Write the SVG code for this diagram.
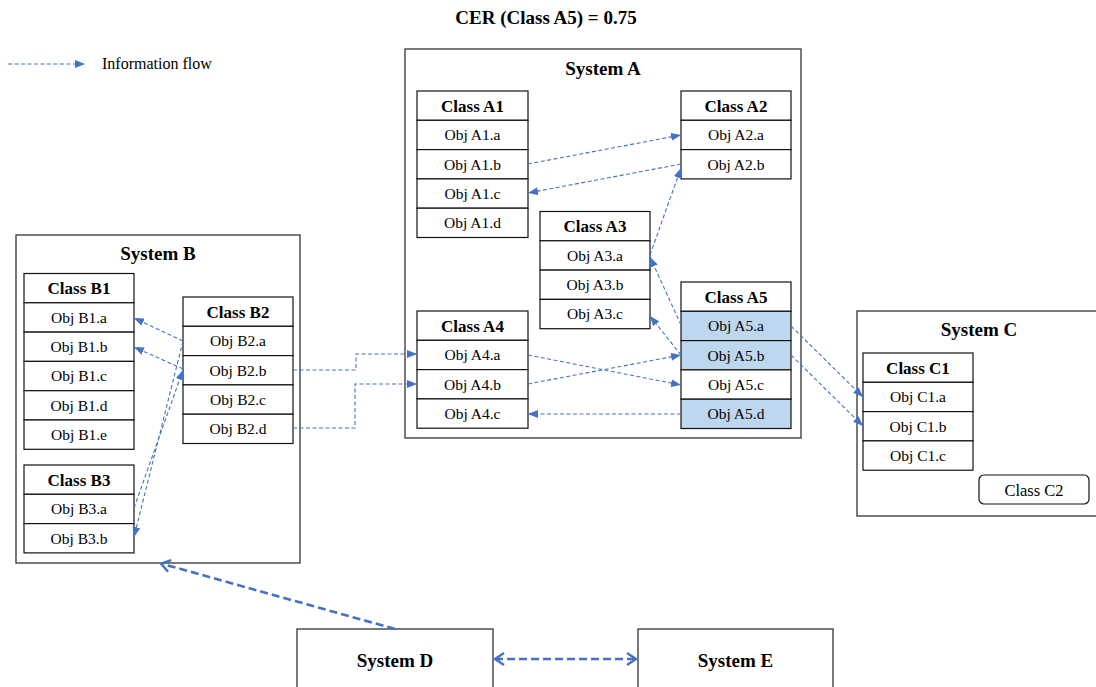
<svg xmlns="http://www.w3.org/2000/svg" width="1096" height="687" viewBox="0 0 1096 687" font-family="'Liberation Serif', Tinos, 'DejaVu Serif', serif">
<style>
text{font-family:'Liberation Serif', Tinos, 'Times New Roman', 'DejaVu Serif', serif;fill:#000}
.sys{fill:#fff;stroke:#333;stroke-width:1.3}
.st{font-size:19px;font-weight:bold;text-anchor:middle}
.box{fill:#fff;stroke:#111;stroke-width:1.2}
.hl{fill:#bdd7ee;stroke:#111;stroke-width:1.2}
.ch{font-size:17px;font-weight:bold;text-anchor:middle}
.ob{font-size:15.5px;text-anchor:middle}
.fl{fill:none;stroke:#4472c4;stroke-width:1.1;stroke-dasharray:4 2.5;marker-end:url(#ah)}
.thick{fill:none;stroke:#4472c4;stroke-width:2.6;stroke-dasharray:8 4}
</style>
<defs>
<marker id="ah" markerUnits="userSpaceOnUse" markerWidth="10" markerHeight="8" refX="10" refY="4" orient="auto">
<path d="M0,0 L10,4 L0,8 z" fill="#4472c4"/>
</marker>
<marker id="oh" markerUnits="userSpaceOnUse" markerWidth="12" markerHeight="14" refX="11" refY="7" orient="auto-start-reverse">
<path d="M2,1 L11,7 L2,13" fill="none" stroke="#4472c4" stroke-width="2.4"/>
</marker>
</defs>
<rect width="1096" height="687" fill="#fff"/>
<text class="st" x="546" y="24">CER (Class A5) = 0.75</text>
<g id="legend">
<path class="fl" d="M8,64 H85"/>
<text x="102" y="69" style="font-size:16px">Information flow</text>
</g>

<g id="systemA">
<rect class="sys" x="405" y="49" width="396" height="389"/>
<text class="st" x="603" y="75">System A</text>
</g>
<g id="classA1">
<rect class="box" x="417" y="91" width="111" height="29.3"/><text class="ch" x="472.5" y="111.6">Class A1</text>
<rect class="box" x="417" y="120.3" width="111" height="29.3"/><text class="ob" x="472.5" y="140.2">Obj A1.a</text>
<rect class="box" x="417" y="149.6" width="111" height="29.3"/><text class="ob" x="472.5" y="169.5">Obj A1.b</text>
<rect class="box" x="417" y="178.9" width="111" height="29.3"/><text class="ob" x="472.5" y="198.8">Obj A1.c</text>
<rect class="box" x="417" y="208.2" width="111" height="29.3"/><text class="ob" x="472.5" y="228.1">Obj A1.d</text>
</g>
<g id="classA2">
<rect class="box" x="681" y="91" width="110" height="29.3"/><text class="ch" x="736" y="111.6">Class A2</text>
<rect class="box" x="681" y="120.3" width="110" height="29.3"/><text class="ob" x="736" y="140.2">Obj A2.a</text>
<rect class="box" x="681" y="149.6" width="110" height="29.3"/><text class="ob" x="736" y="169.5">Obj A2.b</text>
</g>
<g id="classA3">
<rect class="box" x="540" y="211.5" width="110" height="29.3"/><text class="ch" x="595" y="232.1">Class A3</text>
<rect class="box" x="540" y="240.8" width="110" height="29.3"/><text class="ob" x="595" y="260.7">Obj A3.a</text>
<rect class="box" x="540" y="270.1" width="110" height="29.3"/><text class="ob" x="595" y="290">Obj A3.b</text>
<rect class="box" x="540" y="299.4" width="110" height="29.3"/><text class="ob" x="595" y="319.3">Obj A3.c</text>
</g>
<g id="classA4">
<rect class="box" x="417" y="311" width="111" height="29.3"/><text class="ch" x="472.5" y="331.6">Class A4</text>
<rect class="box" x="417" y="340.3" width="111" height="29.3"/><text class="ob" x="472.5" y="360.2">Obj A4.a</text>
<rect class="box" x="417" y="369.6" width="111" height="29.3"/><text class="ob" x="472.5" y="389.5">Obj A4.b</text>
<rect class="box" x="417" y="398.9" width="111" height="29.3"/><text class="ob" x="472.5" y="418.8">Obj A4.c</text>
</g>
<g id="classA5">
<rect class="box" x="681" y="282" width="110" height="29.3"/><text class="ch" x="736" y="302.6">Class A5</text>
<rect class="hl" x="681" y="311.3" width="110" height="29.3"/><text class="ob" x="736" y="331.2">Obj A5.a</text>
<rect class="hl" x="681" y="340.6" width="110" height="29.3"/><text class="ob" x="736" y="360.5">Obj A5.b</text>
<rect class="box" x="681" y="369.9" width="110" height="29.3"/><text class="ob" x="736" y="389.8">Obj A5.c</text>
<rect class="hl" x="681" y="399.2" width="110" height="29.3"/><text class="ob" x="736" y="419.1">Obj A5.d</text>
</g>

<g id="systemB">
<rect class="sys" x="16" y="235" width="284" height="328"/>
<text class="st" x="158" y="259.5">System B</text>
</g>
<g id="classB1">
<rect class="box" x="24" y="273.5" width="110" height="29.3"/><text class="ch" x="79" y="294.1">Class B1</text>
<rect class="box" x="24" y="302.8" width="110" height="29.3"/><text class="ob" x="79" y="322.7">Obj B1.a</text>
<rect class="box" x="24" y="332.1" width="110" height="29.3"/><text class="ob" x="79" y="352">Obj B1.b</text>
<rect class="box" x="24" y="361.4" width="110" height="29.3"/><text class="ob" x="79" y="381.3">Obj B1.c</text>
<rect class="box" x="24" y="390.7" width="110" height="29.3"/><text class="ob" x="79" y="410.6">Obj B1.d</text>
<rect class="box" x="24" y="420" width="110" height="29.3"/><text class="ob" x="79" y="439.9">Obj B1.e</text>
</g>
<g id="classB2">
<rect class="box" x="183" y="297" width="110" height="29.3"/><text class="ch" x="238" y="317.6">Class B2</text>
<rect class="box" x="183" y="326.3" width="110" height="29.3"/><text class="ob" x="238" y="346.2">Obj B2.a</text>
<rect class="box" x="183" y="355.6" width="110" height="29.3"/><text class="ob" x="238" y="375.5">Obj B2.b</text>
<rect class="box" x="183" y="384.9" width="110" height="29.3"/><text class="ob" x="238" y="404.8">Obj B2.c</text>
<rect class="box" x="183" y="414.2" width="110" height="29.3"/><text class="ob" x="238" y="434.1">Obj B2.d</text>
</g>
<g id="classB3">
<rect class="box" x="24" y="465" width="110" height="29.3"/><text class="ch" x="79" y="485.6">Class B3</text>
<rect class="box" x="24" y="494.3" width="110" height="29.3"/><text class="ob" x="79" y="514.2">Obj B3.a</text>
<rect class="box" x="24" y="523.6" width="110" height="29.3"/><text class="ob" x="79" y="543.5">Obj B3.b</text>
</g>

<g id="systemC">
<rect class="sys" x="857" y="311" width="245" height="205"/>
<text class="st" x="979" y="335.5">System C</text>
</g>
<g id="classC1">
<rect class="box" x="863" y="353" width="110" height="29.3"/><text class="ch" x="918" y="373.6">Class C1</text>
<rect class="box" x="863" y="382.3" width="110" height="29.3"/><text class="ob" x="918" y="402.2">Obj C1.a</text>
<rect class="box" x="863" y="411.6" width="110" height="29.3"/><text class="ob" x="918" y="431.5">Obj C1.b</text>
<rect class="box" x="863" y="440.9" width="110" height="29.3"/><text class="ob" x="918" y="460.8">Obj C1.c</text>
</g>
<g id="classC2">
<rect class="box" x="979" y="475" width="110" height="29" rx="5"/>
<text x="1034" y="495.5" style="font-size:16.5px;text-anchor:middle">Class C2</text>
</g>

<g id="systemD">
<rect class="sys" x="297" y="629" width="196" height="70"/>
<text class="st" x="395" y="666.5">System D</text>
</g>
<g id="systemE">
<rect class="sys" x="638" y="629" width="195" height="70"/>
<text class="st" x="735.5" y="666.5">System E</text>
</g>

<g id="connectors">
<path class="fl" d="M528,164 L681,135"/>
<path class="fl" d="M681,164 L528,193"/>
<path class="fl" d="M650,255 L681,168"/>
<path class="fl" d="M681,325 L650,257"/>
<path class="fl" d="M681,355 L650,316"/>
<path class="fl" d="M528,355 L681,385"/>
<path class="fl" d="M528,384 L681,355"/>
<path class="fl" d="M681,414 L528,414"/>
<path class="fl" d="M791,326 L863,397"/>
<path class="fl" d="M791,355 L863,426"/>
<path class="fl" d="M293,370 H356 V354 H417"/>
<path class="fl" d="M293,428 H355 V384 H417"/>
<path class="fl" d="M183,341 L134,318"/>
<path class="fl" d="M183,369 L134,347"/>
<path class="fl" d="M134,508 L183,370"/>
<path class="fl" d="M183,341 L134,537"/>
<path class="thick" d="M395,629 L161,563.5" marker-end="url(#oh)"/>
<path class="thick" d="M495,659 L636,659" marker-start="url(#oh)" marker-end="url(#oh)"/>
</g>
</svg>
